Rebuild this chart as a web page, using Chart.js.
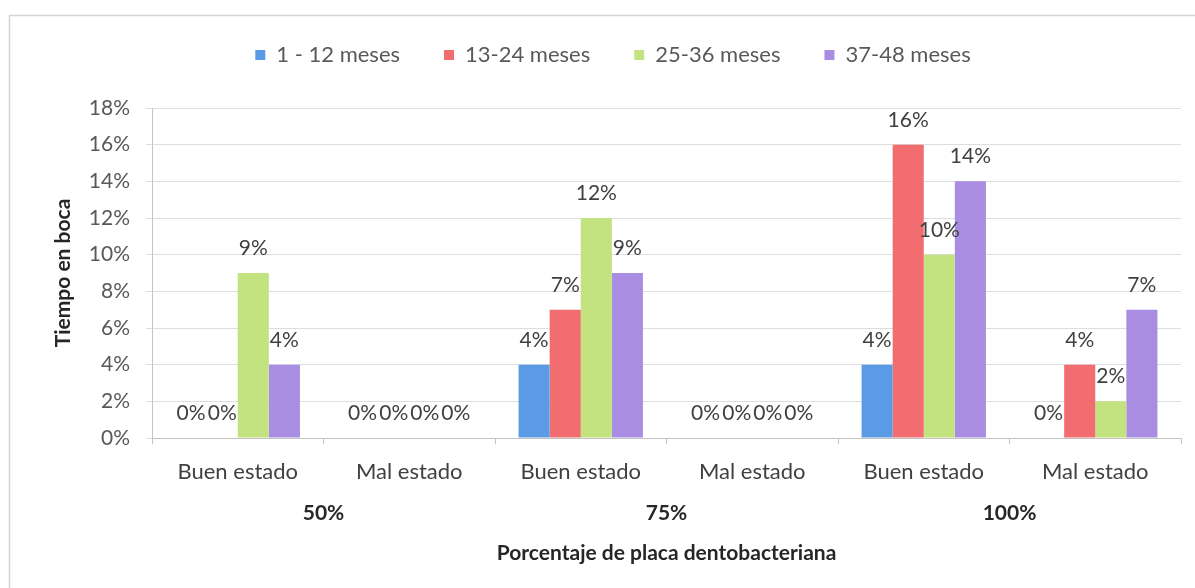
<!DOCTYPE html>
<html>
<head>
<meta charset="utf-8">
<script src="https://cdn.jsdelivr.net/npm/chart.js@4.4.0/dist/chart.umd.min.js"></script>
<style>
  html, body { margin: 0; padding: 0; background: #fff; }
</style>
</head>
<body>
<canvas id="myChart" width="1195" height="588"></canvas>
<script>
// Chart data
const categories = ['Buen estado', 'Mal estado', 'Buen estado', 'Mal estado', 'Buen estado', 'Mal estado'];
const groups = ['50%', '75%', '100%'];
const seriesNames = ['1 - 12 meses', '13-24 meses', '25-36 meses', '37-48 meses'];
const meses1a12 = [0, 0, 4, 0, 4, 0];
const meses13a24 = [0, 0, 7, 0, 16, 4];
const meses25a36 = [9, 0, 12, 0, 10, 2];
const meses37a48 = [4, 0, 9, 0, 14, 7];
const yMax = 18;
const yStep = 2;

const colors = ['#5b9be6', '#f26d6f', '#c2e380', '#a88de3'];
const seriesValues = [meses1a12, meses13a24, meses25a36, meses37a48];

Chart.defaults.font.family = 'Lato, "Open Sans", sans-serif';
Chart.defaults.color = '#595959';

// push the plot down below the legend
const legendSpace = {
    id: 'legendSpace',
    beforeInit(chart) {
        const fit = chart.legend.fit;
        chart.legend.fit = function () {
            fit.call(this);
            this.height = 108;
        };
    }
};

// light frame round the chart, like the office export
const frame = {
    id: 'frame',
    beforeDraw(chart) {
        const c = chart.ctx;
        c.save();
        c.strokeStyle = '#d4d4d4';
        c.lineWidth = 1.5;
        c.beginPath();
        c.moveTo(9.5, 588);
        c.lineTo(9.5, 15.5);
        c.lineTo(1195, 15.5);
        c.stroke();
        c.restore();
    }
};

// value labels over each bar
const barLabels = {
    id: 'barLabels',
    afterDatasetsDraw(chart) {
        const c = chart.ctx;
        c.save();
        c.font = '21px Lato, "Open Sans", sans-serif';
        c.fillStyle = '#404040';
        c.textAlign = 'center';
        c.textBaseline = 'alphabetic';
        chart.data.datasets.forEach((ds, i) => {
            chart.getDatasetMeta(i).data.forEach((bar, j) => {
                c.fillText(ds.data[j] + '%', bar.x, bar.y - 18);
            });
        });
        c.restore();
    }
};

const ctx = document.getElementById('myChart').getContext('2d');

const myChart = new Chart(ctx, {
    type: 'bar',
    data: {
        labels: categories,
        datasets: seriesNames.map((name, i) => ({
            label: name,
            data: seriesValues[i],
            backgroundColor: colors[i],
            borderWidth: 0,
            categoryPercentage: 0.725,
            barPercentage: 1
        }))
    },
    options: {
        responsive: false,
        animation: false,
        layout: { padding: { left: 45, right: 14, top: 0, bottom: 22 } },
        plugins: {
            tooltip: { enabled: false },
            legend: {
                position: 'top',
                labels: {
                    boxWidth: 10,
                    boxHeight: 10,
                    padding: 44,
                    color: '#595959',
                    font: { size: 22 }
                }
            }
        },
        scales: {
            x: {
                afterFit(scale) { scale.height = 48; },
                grid: {
                    display: true,
                    drawOnChartArea: false,
                    drawTicks: true,
                    tickLength: 6,
                    color: '#c4c4c4'
                },
                border: { color: '#c4c4c4' },
                ticks: {
                    padding: 15,
                    color: '#404040',
                    font: { size: 22 },
                    maxRotation: 0,
                    autoSkip: false
                }
            },
            x2: {
                type: 'category',
                labels: groups,
                position: 'bottom',
                offset: true,
                afterFit(scale) { scale.height = 80; },
                grid: { display: false, drawTicks: false },
                border: { display: false },
                ticks: {
                    padding: 15,
                    color: '#262626',
                    font: { size: 21, weight: 'bold' }
                },
                title: {
                    display: true,
                    text: 'Porcentaje de placa dentobacteriana',
                    color: '#262626',
                    font: { size: 21, weight: 'bold' },
                    padding: { top: 5, bottom: 0 }
                }
            },
            y: {
                min: 0,
                max: yMax,
                afterFit(scale) { scale.width = 107; },
                grid: {
                    color: '#dedede',
                    drawTicks: true,
                    tickLength: 6
                },
                border: { color: '#c4c4c4' },
                ticks: {
                    stepSize: yStep,
                    padding: 16,
                    color: '#595959',
                    font: { size: 21 },
                    callback: v => v + '%'
                },
                title: {
                    display: true,
                    text: 'Tiempo en boca',
                    color: '#262626',
                    font: { size: 21, weight: 'bold' },
                    padding: { top: 6, bottom: 0 }
                }
            }
        }
    },
    plugins: [legendSpace, frame, barLabels]
});
</script>
</body>
</html>
